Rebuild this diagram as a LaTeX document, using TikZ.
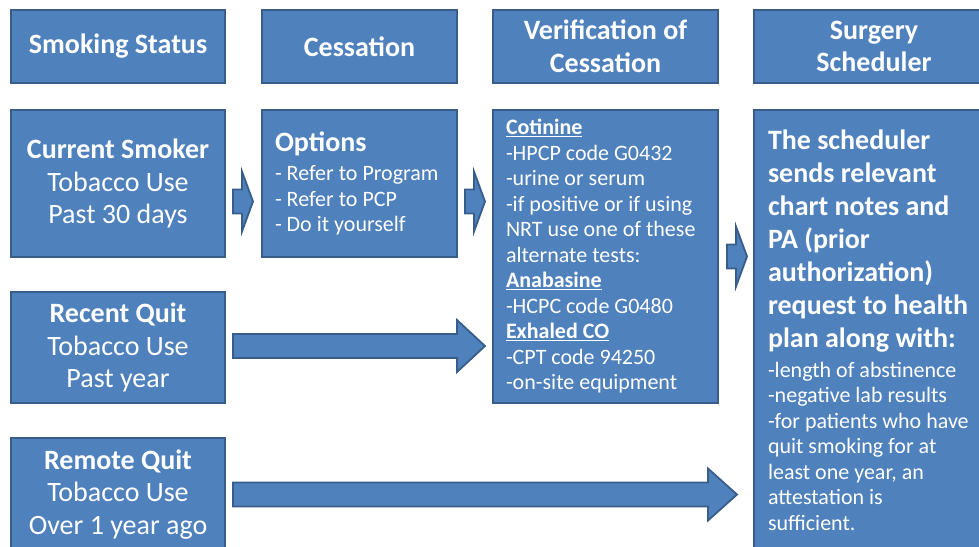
\documentclass[tikz,border=0pt]{standalone}
\usepackage{fontspec}
\setmainfont{Carlito}
\usetikzlibrary{calc}

\definecolor{azul}{HTML}{4F81BD}
\definecolor{azulborde}{HTML}{385D8A}

\newcommand{\grande}{\fontsize{28}{32.5}\selectfont}
\newcommand{\chico}{\fontsize{22}{25.5}\selectfont}

\begin{document}
\begin{tikzpicture}[
  x=1pt,
  y=-1pt,
  caja/.style={
    draw=azulborde,
    line width=2pt,
    fill=azul,
    text=white,
    anchor=north west,
    inner xsep=13pt,
    inner ysep=0pt
  },
  centrada/.style={
    caja,
    inner xsep=2pt,
    align=flush center
  },
  flecha/.style n args={3}{
    draw=azulborde,
    line width=1.8pt,
    fill=azul,
    to path={let \p1=(\tikztostart), \p2=(\tikztotarget) in
      (\x1,\y1+#1pt) -- (\x2-#3pt,\y1+#1pt) -- (\x2-#3pt,\y1+#2pt)
      -- (\x2,\y1) -- (\x2-#3pt,\y1-#2pt) -- (\x2-#3pt,\y1-#1pt)
      -- (\x1,\y1-#1pt) -- cycle}
  }
]

\useasboundingbox (0,0) rectangle (979,546);

%--------------------
% Cabeceras
%--------------------
\node[centrada, text width=210pt, minimum height=73pt, font=\grande\bfseries] (hStatus) at (10,9)
  {Smoking Status};
\node[centrada, text width=191pt, minimum height=73pt, font=\grande\bfseries] (hCessation) at (261,9)
  {Cessation};
\node[centrada, text width=221pt, minimum height=73pt, font=\grande\bfseries] (hVerif) at (492,9)
  {Verification of\\Cessation};
\node[centrada, text width=236pt, minimum height=73pt, font=\grande\bfseries] (hSched) at (753,9)
  {Surgery\\Scheduler};

%--------------------
% Estado del fumador
%--------------------
\node[centrada, text width=210pt, minimum height=147pt, font=\grande] (current) at (10,109)
  {\textbf{Current Smoker}\\Tobacco Use\\Past 30 days};
\node[centrada, text width=210pt, minimum height=111pt, font=\grande] (recent) at (10,291)
  {\textbf{Recent Quit}\\Tobacco Use\\Past year};
\node[centrada, text width=210pt, minimum height=113pt, font=\grande] (remote) at (10,437)
  {\textbf{Remote Quit}\\Tobacco Use\\Over 1 year ago};

%--------------------
% Cesacion y verificacion
%--------------------
\node[caja, text width=169pt, minimum height=147pt, align=flush left, font=\chico] (options) at (261,109)
  {{\grande\bfseries Options}\\[3.5pt]
   - Refer to Program\\
   - Refer to PCP\\
   - Do it yourself};
\node[caja, text width=199pt, minimum height=293pt, align=flush left, font=\chico] (verif) at (492,109)
  {\underline{\textbf{Cotinine}}\\
   -HPCP code G0432\\
   -urine or serum\\
   -if positive or if using\\
   NRT use one of these\\
   alternate tests:\\
   \underline{\textbf{Anabasine}}\\
   -HCPC code G0480\\
   \underline{\textbf{Exhaled CO}}\\
   -CPT code 94250\\
   -on-site equipment};

%--------------------
% Programador de cirugia
%--------------------
\node[caja, inner xsep=14pt, text width=222pt, minimum height=440pt, align=flush left, font=\chico] (sched) at (753,109)
  {{\fontsize{28}{33}\bfseries\selectfont
    The scheduler\\
    sends relevant\\
    chart notes and\\
    PA (prior\\
    authorization)\\
    request to health\\
    plan along with:\par}
   \vspace{4.5pt}
   -length of abstinence\\
   -negative lab results\\
   -for patients who have\\
   quit smoking for at\\
   least one year, an\\
   attestation is\\
   sufficient.\par};

%--------------------
% Flechas
%--------------------
\draw[flecha={12}{30}{11}] ([shift={(7,18)}]current.east) to ([shift={(-8,18)}]options.west);
\draw[flecha={12}{30}{11}] ([shift={(7,18)}]options.east) to ([shift={(-7,18)}]verif.west);
\draw[flecha={12}{30}{11}] ([shift={(8,0)}]verif.east) to ([shift={(-6,0)}]sched.west);
\draw[flecha={12}{26}{28}] ([shift={(7,-1.5)}]recent.east) to ([shift={(-7,0)}]verif.west);
\draw[flecha={12}{26}{29}] ([shift={(7,0)}]remote.east) to ([shift={(-16,0)}]sched.west);

\end{tikzpicture}
\end{document}
